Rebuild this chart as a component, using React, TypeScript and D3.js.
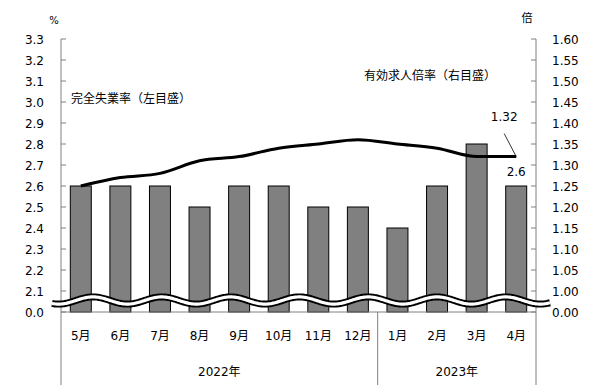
import * as React from "react";
import * as d3 from "d3";

const months = ["5月", "6月", "7月", "8月", "9月", "10月", "11月", "12月", "1月", "2月", "3月", "4月"];
const unemployment = [2.6, 2.6, 2.6, 2.5, 2.6, 2.6, 2.5, 2.5, 2.4, 2.6, 2.8, 2.6]; // 完全失業率 %
const jobRatio = [1.25, 1.27, 1.28, 1.31, 1.32, 1.34, 1.35, 1.36, 1.35, 1.34, 1.32, 1.32]; // 有効求人倍率
const years = [
  { label: "2022年", from: 0, to: 8 },
  { label: "2023年", from: 8, to: 12 },
];
const leftTicks = [2.0, 2.1, 2.2, 2.3, 2.4, 2.5, 2.6, 2.7, 2.8, 2.9, 3.0, 3.1, 3.2, 3.3];
const rightTicks = [0.95, 1.0, 1.05, 1.1, 1.15, 1.2, 1.25, 1.3, 1.35, 1.4, 1.45, 1.5, 1.55, 1.6];

const W = 604,
  H = 392;
const FONT = "'DejaVu Sans', 'Noto Sans CJK JP', sans-serif";

export default function App() {
  const ref = React.useRef<SVGSVGElement>(null);

  React.useEffect(() => {
    if (!ref.current) return;
    const svg = d3.select(ref.current);
    svg.selectAll("*").remove();

    const left = 61,
      right = 536,
      top = 39,
      base = 312,
      bottom = 385;

    const x = d3
      .scaleBand<string>()
      .domain(months)
      .range([left, right])
      .paddingInner(0.47)
      .paddingOuter(0.235);
    const step = x.step();

    const yL = d3.scaleLinear().domain([2.0, 3.3]).range([base, top]); // bottom tick shown as 0.0
    const yR = d3.scaleLinear().domain([0.95, 1.6]).range([base, top]); // bottom tick shown as 0.00

    const g = svg.append("g").style("font-family", FONT);

    // bars
    g.selectAll("rect.bar")
      .data(unemployment)
      .enter()
      .append("rect")
      .attr("class", "bar")
      .attr("x", (d, i) => x(months[i])!)
      .attr("y", d => yL(d))
      .attr("width", x.bandwidth())
      .attr("height", d => base - yL(d))
      .attr("fill", "#808080")
      .attr("stroke", "#000")
      .attr("stroke-width", 1);

    // axes lines
    const axisColor = "#808080";
    g.append("line").attr("x1", left).attr("x2", left).attr("y1", top).attr("y2", bottom).attr("stroke", axisColor);
    g.append("line").attr("x1", right).attr("x2", right).attr("y1", top).attr("y2", bottom).attr("stroke", axisColor);
    g.append("line").attr("x1", left).attr("x2", right).attr("y1", base).attr("y2", base).attr("stroke", axisColor);
    g.append("line")
      .attr("x1", left + step * years[1].from)
      .attr("x2", left + step * years[1].from)
      .attr("y1", base)
      .attr("y2", bottom)
      .attr("stroke", axisColor);

    // left ticks
    g.selectAll("line.lt")
      .data(leftTicks)
      .enter()
      .append("line")
      .attr("x1", left)
      .attr("x2", left + 5)
      .attr("y1", d => yL(d))
      .attr("y2", d => yL(d))
      .attr("stroke", axisColor);
    g.selectAll("text.lt")
      .data(leftTicks)
      .enter()
      .append("text")
      .attr("x", 44)
      .attr("y", d => yL(d) + 4.5)
      .attr("text-anchor", "end")
      .attr("font-size", 12)
      .text((d, i) => (i === 0 ? "0.0" : d.toFixed(1)));

    // right ticks
    g.selectAll("line.rt")
      .data(rightTicks)
      .enter()
      .append("line")
      .attr("x1", right - 5)
      .attr("x2", right)
      .attr("y1", d => yR(d))
      .attr("y2", d => yR(d))
      .attr("stroke", axisColor);
    g.selectAll("text.rt")
      .data(rightTicks)
      .enter()
      .append("text")
      .attr("x", 552)
      .attr("y", d => yR(d) + 4.5)
      .attr("font-size", 12)
      .text((d, i) => (i === 0 ? "0.00" : d.toFixed(2)));

    // line
    const line = d3
      .line<number>()
      .x((d, i) => x(months[i])! + x.bandwidth() / 2)
      .y(d => yR(d))
      .curve(d3.curveMonotoneX);
    g.append("path")
      .attr("d", line(jobRatio)!)
      .attr("fill", "none")
      .attr("stroke", "#000")
      .attr("stroke-width", 3)
      .attr("stroke-linejoin", "round");

    // axis break wave
    const waveX = d3.range(52, 551, 1);
    const cy = yL(2.05) - 1;
    const wave = d3
      .line<number>()
      .x(d => d)
      .y(d => cy - 3.6 * Math.cos((2 * Math.PI * (d - 93)) / 68.8));
    g.append("path").attr("d", wave(waveX)!).attr("fill", "none").attr("stroke", "#000").attr("stroke-width", 7);
    g.append("path").attr("d", wave(waveX)!).attr("fill", "none").attr("stroke", "#fff").attr("stroke-width", 3.2);

    // month labels
    g.selectAll("text.m")
      .data(months)
      .enter()
      .append("text")
      .attr("x", d => x(d)! + x.bandwidth() / 2)
      .attr("y", 340)
      .attr("text-anchor", "middle")
      .attr("font-size", 12)
      .text(d => d);

    // year labels
    g.selectAll("text.y")
      .data(years)
      .enter()
      .append("text")
      .attr("x", d => left + step * (d.from + d.to) / 2)
      .attr("y", 376)
      .attr("text-anchor", "middle")
      .attr("font-size", 12)
      .text(d => d.label);

    // unit labels
    g.append("text").attr("x", 54).attr("y", 24).attr("text-anchor", "middle").attr("font-size", 10).text("%");
    g.append("text").attr("x", 527).attr("y", 22).attr("text-anchor", "middle").attr("font-size", 11).text("倍");

    // series labels
    g.append("text").attr("x", 71).attr("y", 103).attr("font-size", 12).text("完全失業率（左目盛）");
    g.append("text").attr("x", 364).attr("y", 80).attr("font-size", 12).text("有効求人倍率（右目盛）");

    // last-value annotations
    const lastX = x(months[months.length - 1])! + x.bandwidth() / 2;
    const lastR = jobRatio[jobRatio.length - 1];
    const lastU = unemployment[unemployment.length - 1];
    g.append("line")
      .attr("x1", lastX - 12)
      .attr("y1", yR(lastR) - 23)
      .attr("x2", lastX)
      .attr("y2", yR(lastR))
      .attr("stroke", "#000")
      .attr("stroke-width", 0.8);
    g.append("text")
      .attr("x", lastX - 12)
      .attr("y", yR(lastR) - 36)
      .attr("text-anchor", "middle")
      .attr("font-size", 12)
      .text(lastR.toFixed(2));
    g.append("text")
      .attr("x", lastX)
      .attr("y", yL(lastU) - 10)
      .attr("text-anchor", "middle")
      .attr("font-size", 12)
      .text(lastU.toFixed(1));
  }, []);

  return (
    <svg
      ref={ref}
      width={W}
      height={H}
      style={{ position: "absolute", left: 0, top: 0, background: "#fff" }}
    />
  );
}
